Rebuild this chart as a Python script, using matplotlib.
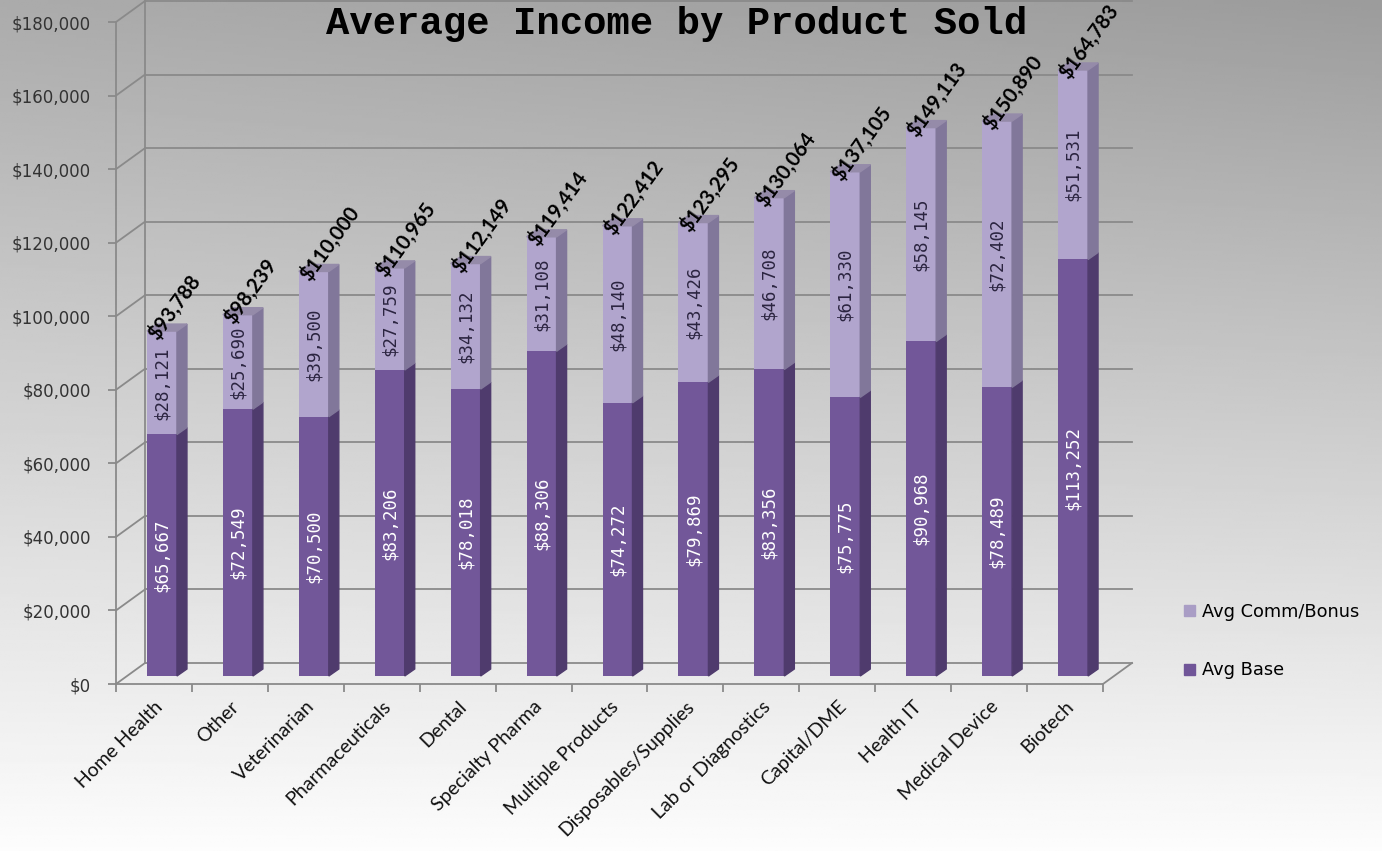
import numpy as np
import matplotlib
matplotlib.use("Agg")
import matplotlib.pyplot as plt
from matplotlib.patches import Polygon, Patch
from matplotlib.transforms import offset_copy

# data
categories = ["Home Health", "Other", "Veterinarian", "Pharmaceuticals", "Dental",
              "Specialty Pharma", "Multiple Products", "Disposables/Supplies",
              "Lab or Diagnostics", "Capital/DME", "Health IT", "Medical Device", "Biotech"]
avg_base = [65667, 72549, 70500, 83206, 78018, 88306, 74272, 79869, 83356, 75775, 90968, 78489, 113252]
avg_comm = [28121, 25690, 39500, 27759, 34132, 31108, 48140, 43426, 46708, 61330, 58145, 72402, 51531]
totals = [93788, 98239, 110000, 110965, 112149, 119414, 122412, 123295, 130064, 137105, 149113, 150890, 164783]
yticks = list(range(0, 180001, 20000))

# colours
c_base, c_base_side = "#725799", "#4f3b6d"
c_comm, c_comm_side, c_comm_top = "#b1a5cd", "#81779a", "#958ba9"
grid_c = "#8a8a8a"

W, H = 1388, 851
fig = plt.figure(figsize=(W / 100, H / 100), dpi=100)

# grey-to-white background
bg = fig.add_axes([0, 0, 1, 1], zorder=-10)
bg.axis("off")
yy, xx = np.mgrid[0:1:300j, 0:1:300j]
shade = 0.61 + 0.38 * yy + 0.06 * (1 - xx) * (1 - yy)
bg.imshow(shade, cmap="gray", vmin=0, vmax=1, aspect="auto", extent=[0, 0.995, 0, 1])
bg.set_xlim(0, 1)
bg.set_ylim(0, 1)

# front plane of the 3d box
ax = fig.add_axes([116 / W, 1 - 684 / H, 987 / W, 662 / H])
ax.patch.set_alpha(0)
n = len(categories)
ax.set_xlim(-0.5, n - 0.5)
ax.set_ylim(0, 180000)
ppx = 987 / n          # pixels per category
ppy = 662 / 180000     # pixels per dollar

for s in ["top", "right"]:
    ax.spines[s].set_visible(False)
for s in ["left", "bottom"]:
    ax.spines[s].set_color(grid_c)
    ax.spines[s].set_linewidth(1.3)

# back wall and floor
back = offset_copy(ax.transData, fig=fig, x=29, y=21, units="dots")
for v in yticks:
    ax.plot([-0.5, n - 0.5], [v, v], color=grid_c, lw=1.3, transform=back, clip_on=False, zorder=1)
    ax.plot([-0.5, -0.5 + 29 / ppx], [v, v + 21 / ppy], color=grid_c, lw=1.3, clip_on=False, zorder=1)
ax.plot([-0.5, -0.5], [0, 180000], color=grid_c, lw=1.3, transform=back, clip_on=False, zorder=1)
ax.plot([n - 0.5, n - 0.5 + 29 / ppx], [0, 21 / ppy], color=grid_c, lw=1.3, clip_on=False, zorder=1)

# bars, slightly behind the front plane
bar_tr = offset_copy(ax.transData, fig=fig, x=8, y=8, units="dots")
x = np.arange(n)
w = 30 / ppx
ddx, ddy = 10 / ppx, 7 / ppy
ax.bar(x, avg_base, w, color=c_base, transform=bar_tr, zorder=3)
ax.bar(x, avg_comm, w, bottom=avg_base, color=c_comm, transform=bar_tr, zorder=3)

for i in range(n):
    xr = x[i] + w / 2
    xl = x[i] - w / 2
    b = avg_base[i]
    t = avg_base[i] + avg_comm[i]
    for y0, y1, c in [(0, b, c_base_side), (b, t, c_comm_side)]:
        ax.add_patch(Polygon([(xr, y0), (xr + ddx, y0 + ddy), (xr + ddx, y1 + ddy), (xr, y1)],
                             closed=True, color=c, transform=bar_tr, zorder=3, clip_on=False))
    ax.add_patch(Polygon([(xl, t), (xr, t), (xr + ddx, t + ddy), (xl + ddx, t + ddy)],
                         closed=True, color=c_comm_top, transform=bar_tr, zorder=3, clip_on=False))

    ax.text(x[i], b / 2, f"${b:,}", rotation=90, ha="center", va="center", color="white",
            family="DejaVu Sans Mono", size=12.5, transform=bar_tr, zorder=5)
    ax.text(x[i], b + avg_comm[i] / 2, f"${avg_comm[i]:,}", rotation=90, ha="center", va="center",
            color="#2b2440", family="DejaVu Sans Mono", size=12.5, transform=bar_tr, zorder=5)
    ax.text(x[i] - 0.12, totals[i] - 1800, f"${totals[i]:,}", rotation=54, rotation_mode="anchor",
            ha="left", va="center", color="black", family="Lato", fontweight="bold", size=14.5,
            transform=bar_tr, zorder=6, clip_on=False)

# axes ticks
ax.set_yticks(yticks)
ax.set_yticklabels([f"${v:,}" for v in yticks], family="DejaVu Sans", size=12, color="#333333")
ax.tick_params(axis="y", length=6, color=grid_c, width=1.3, pad=12)
ax.set_xticks(np.arange(-0.5, n, 1.0))
ax.set_xticklabels([])
ax.tick_params(axis="x", which="major", length=6, color=grid_c, width=1.3)
ax.set_xticks(x, minor=True)
ax.set_xticklabels(categories, minor=True, rotation=45, ha="right", rotation_mode="anchor",
                   family="Lato", size=14, color="#111111")
ax.tick_params(axis="x", which="minor", length=0, pad=10)

# legend
handles = [Patch(color="#a99dc5"), Patch(color="#705598")]
fig.legend(handles, ["Avg Comm/Bonus", "Avg Base"], loc="center left",
           bbox_to_anchor=(1168 / W, 1 - 641 / H), frameon=False,
           prop=dict(family="DejaVu Sans", size=12.8), handlelength=0.6, handleheight=0.6,
           handletextpad=0.4, labelspacing=2.3)

fig.text(677 / W, 1 - 24 / H, "Average Income by Product Sold", ha="center", va="center",
         family="Liberation Mono", fontweight="bold", size=28)

fig.savefig("out.png", dpi=100)
